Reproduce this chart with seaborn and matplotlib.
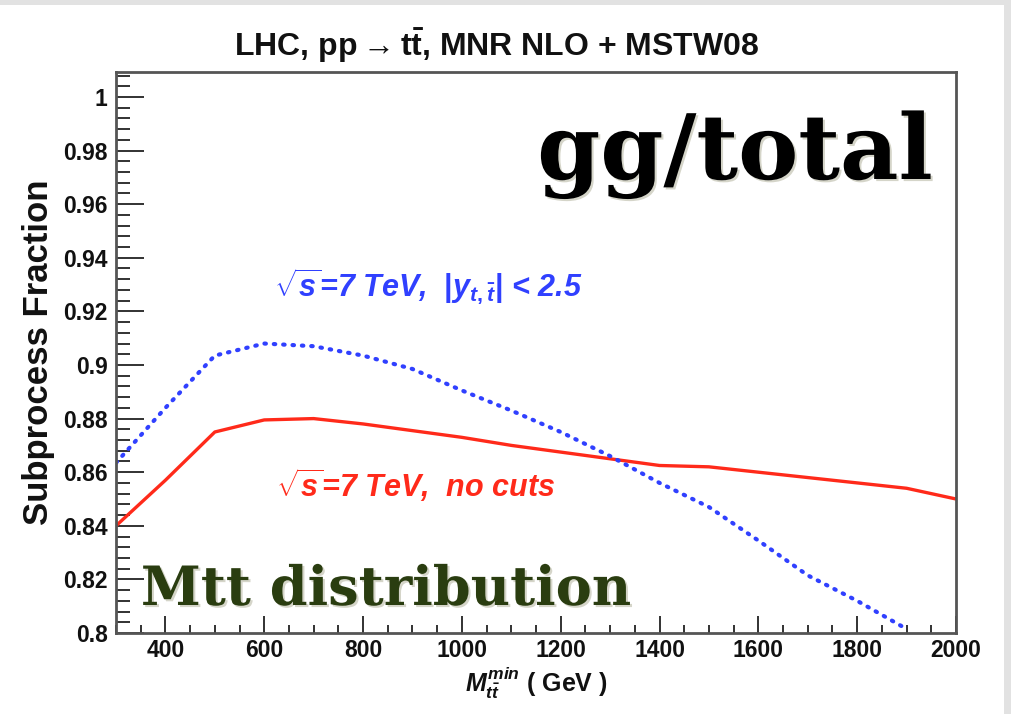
import numpy as np
import pandas as pd
import matplotlib
matplotlib.use("Agg")
import matplotlib.pyplot as plt
import matplotlib.patheffects as pe
from matplotlib.ticker import MultipleLocator, FuncFormatter
from matplotlib.patches import Rectangle
import seaborn as sns

# Minimum invariant mass of the top pair (GeV)
mtt_min = [300, 400, 500, 600, 700, 800, 900, 1000, 1100, 1200,
           1300, 1400, 1500, 1600, 1700, 1800, 1900, 2000]

# gg fraction of the total cross section, no cuts
frac_nocuts = [0.840, 0.857, 0.875, 0.8795, 0.880, 0.878, 0.8755, 0.873, 0.870,
               0.8675, 0.865, 0.8625, 0.862, 0.860, 0.858, 0.856, 0.854, 0.850]

# gg fraction with |y_t|, |y_tbar| < 2.5 (curve runs below the frame after 1900)
mtt_cut = [300, 400, 500, 600, 700, 800, 900, 1000, 1100, 1200,
           1300, 1400, 1500, 1600, 1700, 1800, 1900]
frac_ycut = [0.8635, 0.884, 0.9035, 0.908, 0.907, 0.9035, 0.8985, 0.8905, 0.883,
             0.875, 0.866, 0.856, 0.847, 0.8345, 0.8215, 0.812, 0.8015]

title_text = r"LHC, pp$\rightarrow$t$\bar{\mathrm{t}}$, MNR NLO + MSTW08"
label_cut = r"$\sqrt{s}$=7 TeV,  $|y_{t,\bar{t}}|$ < 2.5"
label_nocut = r"$\sqrt{s}$=7 TeV,  no cuts"

sns.set_style("ticks")
plt.rcParams["font.family"] = ["Liberation Sans", "DejaVu Sans"]
plt.rcParams["mathtext.fontset"] = "custom"
plt.rcParams["mathtext.rm"] = "Liberation Sans:bold"
plt.rcParams["mathtext.it"] = "Liberation Sans:italic:bold"
plt.rcParams["mathtext.bf"] = "Liberation Sans:bold"

df_nocut = pd.DataFrame({"mtt": mtt_min, "frac": frac_nocuts})
df_cut = pd.DataFrame({"mtt": mtt_cut, "frac": frac_ycut})

fig = plt.figure(figsize=(10.12, 7.14), dpi=100)
fig.patch.set_facecolor("white")
# light grey page edges
fig.patches.append(Rectangle((0, 1 - 5 / 714), 1, 5 / 714, transform=fig.transFigure,
                             facecolor="#e2e2e2", edgecolor="none", zorder=0))
fig.patches.append(Rectangle((1004 / 1012, 0), 8 / 1012, 1, transform=fig.transFigure,
                             facecolor="#e2e2e2", edgecolor="none", zorder=0))

ax = fig.add_axes([116 / 1012, 1 - 633 / 714, (956 - 116) / 1012, (633 - 71.5) / 714])

sns.lineplot(data=df_nocut, x="mtt", y="frac", ax=ax, color="#ff2a1a",
             linewidth=2.4, estimator=None, sort=False)
sns.lineplot(data=df_cut, x="mtt", y="frac", ax=ax, color="#3040ff",
             linewidth=3.0, estimator=None, sort=False,
             linestyle=(0, (0.35, 1.9)))
ax.lines[-1].set_dash_capstyle("round")

ax.set_xlim(300, 2000)
ax.set_ylim(0.8, 1.0095)

ax.xaxis.set_major_locator(MultipleLocator(200))
ax.xaxis.set_minor_locator(MultipleLocator(50))
ax.yaxis.set_major_locator(MultipleLocator(0.02))
ax.yaxis.set_minor_locator(MultipleLocator(0.004))
ax.yaxis.set_major_formatter(FuncFormatter(lambda v, p: f"{v:.2f}".rstrip("0").rstrip(".")))
ax.xaxis.set_major_formatter(FuncFormatter(lambda v, p: f"{v:.0f}"))

ax.tick_params(axis="both", which="both", direction="in", top=False, right=False,
               colors="#222222", labelcolor="#111111", width=1.3)
ax.tick_params(axis="x", which="major", length=12, labelsize=16.5, pad=4)
ax.tick_params(axis="x", which="minor", length=6)
ax.tick_params(axis="y", which="major", length=20, labelsize=16.5, pad=6)
ax.tick_params(axis="y", which="minor", length=10)
for lab in ax.get_xticklabels() + ax.get_yticklabels():
    lab.set_fontweight("bold")

for s in ax.spines.values():
    s.set_visible(True)
    s.set_color("#555555")
    s.set_linewidth(2)

ax.set_xlabel(r"$M_{t\bar{t}}^{min}$ ( GeV )", fontsize=18, fontweight="bold",
              color="#111111", labelpad=2)
ax.set_ylabel("Subprocess Fraction", fontsize=25, fontweight="bold",
              color="#111111", labelpad=6)

fig.text(497 / 1012, 1 - 46 / 714, title_text, ha="center", va="center",
         fontsize=23, fontweight="bold", color="#111111")

ax.text(428 / 1012, 1 - 287 / 714, label_cut, transform=fig.transFigure,
        ha="center", va="center", fontsize=22, style="italic", fontweight="bold",
        color="#3040ff")
ax.text(416 / 1012, 1 - 485 / 714, label_nocut, transform=fig.transFigure,
        ha="center", va="center", fontsize=22, style="italic", fontweight="bold",
        color="#ff2a1a")

shadow = [pe.withSimplePatchShadow(offset=(1.5, -1.5), shadow_rgbFace="#888866", alpha=0.35)]
fig.text(735 / 1012, 1 - 155 / 714, "gg/total", ha="center", va="center",
         fontsize=65, fontweight="bold", family="DejaVu Serif", color="black",
         path_effects=shadow)
fig.text(386 / 1012, 1 - 590 / 714, "Mtt distribution", ha="center", va="center",
         fontsize=39, fontweight="bold", family="DejaVu Serif", color="#2a3d10",
         path_effects=shadow)

fig.savefig("out.png", dpi=100, facecolor=fig.get_facecolor())
